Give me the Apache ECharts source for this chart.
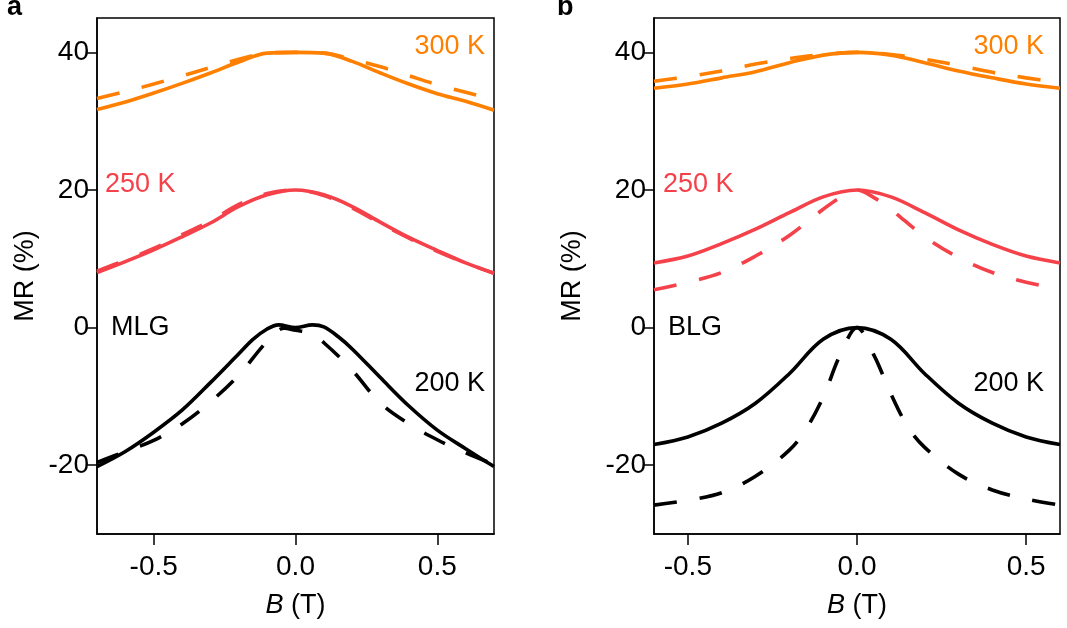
<!DOCTYPE html>
<html>
<head>
<meta charset="utf-8">
<script src="https://cdn.jsdelivr.net/npm/echarts@6/dist/echarts.min.js"></script>
<style>
  html, body { margin: 0; padding: 0; background: #fff; }
  #chart { width: 1067px; height: 628px; }
</style>
</head>
<body>
<div id="chart"></div>
<script>
// Magnetoresistance MR(B) of monolayer (MLG) and bilayer (BLG) graphene,
// curves offset by 20 % per temperature; solid = measured, dashed = model.

// ---- Panel a: MLG ----
const bA = [-0.7, -0.6, -0.5, -0.4, -0.3, -0.2, -0.1, 0, 0.1, 0.2, 0.3, 0.4, 0.5, 0.6, 0.7];
const mlg300Solid  = [31.7, 32.8, 34.1, 35.5, 37.0, 38.6, 39.9, 40.0, 39.9, 38.7, 37.0, 35.4, 34.0, 32.9, 31.6];
const mlg300Dashed = [33.3, 34.3, 35.4, 36.6, 37.8, 39.0, 39.9, 40.0, 39.9, 39.0, 37.9, 36.6, 35.3, 34.2, 33.1];
const mlg250Solid  = [8.0, 9.6, 11.3, 13.2, 15.2, 17.6, 19.3, 20.0, 19.3, 17.6, 15.3, 13.1, 11.2, 9.4, 7.9];
const mlg250Dashed = [8.2, 9.8, 11.5, 13.5, 15.5, 17.9, 19.5, 20.0, 19.2, 17.4, 15.1, 13.0, 11.1, 9.4, 7.9];

const bA200Solid  = [-0.7, -0.6, -0.5, -0.4, -0.3, -0.2, -0.15, -0.1, -0.06, 0, 0.06, 0.1, 0.15, 0.2, 0.3, 0.4, 0.5, 0.6, 0.7];
const mlg200Solid = [-20.2, -18.0, -15.2, -12.0, -8.0, -3.8, -1.7, -0.2, 0.4, 0.0, 0.4, 0.1, -1.3, -3.1, -7.3, -11.4, -14.9, -17.6, -20.2];
const bA200Dashed  = [-0.7, -0.6, -0.5, -0.4, -0.3, -0.2, -0.1, -0.04, 0, 0.05, 0.1, 0.2, 0.3, 0.4, 0.5, 0.6, 0.7];
const mlg200Dashed = [-19.6, -18.0, -16.4, -14.0, -10.8, -6.9, -2.0, -0.1, -0.4, -0.8, -2.2, -6.2, -11.0, -14.0, -16.3, -18.2, -19.9];

// ---- Panel b: BLG ----
const bB = [-0.6, -0.5, -0.4, -0.3, -0.2, -0.1, 0, 0.1, 0.2, 0.3, 0.4, 0.5, 0.6];
const blg300Solid  = [34.8, 35.4, 36.3, 37.2, 38.5, 39.6, 40.0, 39.6, 38.5, 37.3, 36.3, 35.4, 34.8];
const blg300Dashed = [35.8, 36.5, 37.3, 38.3, 39.1, 39.7, 40.0, 39.7, 39.0, 38.1, 37.1, 36.3, 35.6];
const blg250Solid  = [9.4, 10.4, 12.2, 14.3, 16.7, 19.0, 20.0, 19.0, 16.7, 14.2, 12.1, 10.4, 9.4];
const blg200Solid  = [-17.0, -15.9, -13.9, -11.0, -6.7, -1.7, 0, -1.7, -6.7, -11.0, -13.9, -15.9, -17.0];

const bB250Dashed  = [-0.6, -0.5, -0.4, -0.3, -0.2, -0.1, -0.05, 0, 0.05, 0.1, 0.2, 0.3, 0.4, 0.5, 0.6];
const blg250Dashed = [5.5, 6.6, 8.0, 10.4, 13.4, 17.2, 18.9, 20.0, 18.9, 17.2, 13.2, 10.2, 8.0, 6.6, 5.6];
const bB200Dashed  = [-0.6, -0.5, -0.4, -0.3, -0.2, -0.15, -0.1, -0.05, 0, 0.05, 0.1, 0.15, 0.2, 0.3, 0.4, 0.5, 0.6];
const blg200Dashed = [-25.8, -25.1, -24.0, -21.6, -17.8, -14.7, -10.1, -4.0, 0, -4.0, -9.6, -14.4, -17.4, -21.3, -23.6, -24.9, -25.8];

// ---- Axes ----
const yTicks = [-20, 0, 20, 40];
const xTicks = [-0.5, 0, 0.5];
const yRange = [-30, 45];
const xRangeA = [-0.7, 0.7];
const xRangeB = [-0.6, 0.6];

const ORANGE = '#ff8000';
const RED = '#f5414a';
const BLACK = '#000000';
const FONT = '"Liberation Sans", Arial, Helvetica, sans-serif';
const TICK_SIZE = 28;
const TEXT_SIZE = 27;

const zip = (xs, ys) => xs.map((x, i) => [x, ys[i]]);

function line(grid, xs, ys, color, dashed) {
  return {
    type: 'line',
    xAxisIndex: grid,
    yAxisIndex: grid,
    data: zip(xs, ys),
    showSymbol: false,
    smooth: 0.35,
    silent: true,
    animation: false,
    clip: true,
    lineStyle: {
      color: color,
      width: 3.6,
      type: dashed ? [23, 23] : 'solid',
      cap: 'butt'
    },
    z: dashed ? 3 : 2
  };
}

function xAxis(grid, range) {
  return {
    type: 'value',
    gridIndex: grid,
    min: range[0],
    max: range[1],
    splitLine: { show: false },
    axisLine: { show: true, onZero: false, lineStyle: { color: BLACK, width: 1.5 } },
    axisTick: { show: true, length: 11, lineStyle: { color: BLACK, width: 1.5 }, customValues: xTicks },
    axisLabel: {
      show: true, margin: 19, color: BLACK, fontSize: TICK_SIZE, fontFamily: FONT,
      customValues: xTicks,
      formatter: v => v.toFixed(1)
    },
    name: '{i|B} (T)',
    nameLocation: 'middle',
    nameGap: 58,
    nameMoveOverlap: false,
    nameTextStyle: {
      color: BLACK, fontSize: TEXT_SIZE, fontFamily: FONT,
      rich: { i: { fontStyle: 'italic', fontSize: TEXT_SIZE, fontFamily: FONT, color: BLACK } }
    }
  };
}

function yAxis(grid, gap) {
  return {
    type: 'value',
    gridIndex: grid,
    min: yRange[0],
    max: yRange[1],
    splitLine: { show: false },
    axisLine: { show: true, onZero: false, lineStyle: { color: BLACK, width: 1.5 } },
    axisTick: { show: true, length: 10, lineStyle: { color: BLACK, width: 1.5 }, customValues: yTicks },
    axisLabel: {
      show: true, margin: 8, color: BLACK, fontSize: TICK_SIZE, fontFamily: FONT,
      customValues: yTicks,
      formatter: v => String(v)
    },
    name: 'MR (%)',
    nameLocation: 'middle',
    nameRotate: 90,
    nameGap: gap,
    nameMoveOverlap: false,
    nameTextStyle: { color: BLACK, fontSize: TEXT_SIZE, fontFamily: FONT }
  };
}

function label(text, x, y, color, align, weight, size) {
  return {
    type: 'text',
    x: x,
    y: y,
    silent: true,
    style: {
      text: text,
      fill: color,
      font: (weight || 'normal') + ' ' + (size || TEXT_SIZE) + 'px ' + FONT,
      align: align,
      verticalAlign: 'middle'
    }
  };
}

const chart = echarts.init(document.getElementById('chart'), null, { renderer: 'canvas' });

chart.setOption({
  backgroundColor: '#ffffff',
  animation: false,
  grid: [
    { left: 97, top: 18, width: 397, height: 516, show: true, borderColor: BLACK, borderWidth: 1.5, backgroundColor: 'transparent' },
    { left: 654, top: 18, width: 406, height: 516, show: true, borderColor: BLACK, borderWidth: 1.5, backgroundColor: 'transparent' }
  ],
  xAxis: [xAxis(0, xRangeA), xAxis(1, xRangeB)],
  yAxis: [yAxis(0, 58), yAxis(1, 68)],
  series: [
    line(0, bA, mlg300Solid, ORANGE, false),
    line(0, bA, mlg300Dashed, ORANGE, true),
    line(0, bA, mlg250Solid, RED, false),
    line(0, bA, mlg250Dashed, RED, true),
    line(0, bA200Solid, mlg200Solid, BLACK, false),
    line(0, bA200Dashed, mlg200Dashed, BLACK, true),

    line(1, bB, blg300Solid, ORANGE, false),
    line(1, bB, blg300Dashed, ORANGE, true),
    line(1, bB, blg250Solid, RED, false),
    line(1, bB250Dashed, blg250Dashed, RED, true),
    line(1, bB, blg200Solid, BLACK, false),
    line(1, bB200Dashed, blg200Dashed, BLACK, true)
  ],
  graphic: [
    label('a', 7, 8, BLACK, 'left', 'bold', 27),
    label('b', 557, 8, BLACK, 'left', 'bold', 27),

    label('300 K', 485, 47, ORANGE, 'right'),
    label('250 K', 105, 185, RED, 'left'),
    label('MLG', 111, 328, BLACK, 'left'),
    label('200 K', 485, 384, BLACK, 'right'),

    label('300 K', 1044, 47, ORANGE, 'right'),
    label('250 K', 663, 185, RED, 'left'),
    label('BLG', 668, 328, BLACK, 'left'),
    label('200 K', 1044, 384, BLACK, 'right')
  ]
});
</script>
</body>
</html>
